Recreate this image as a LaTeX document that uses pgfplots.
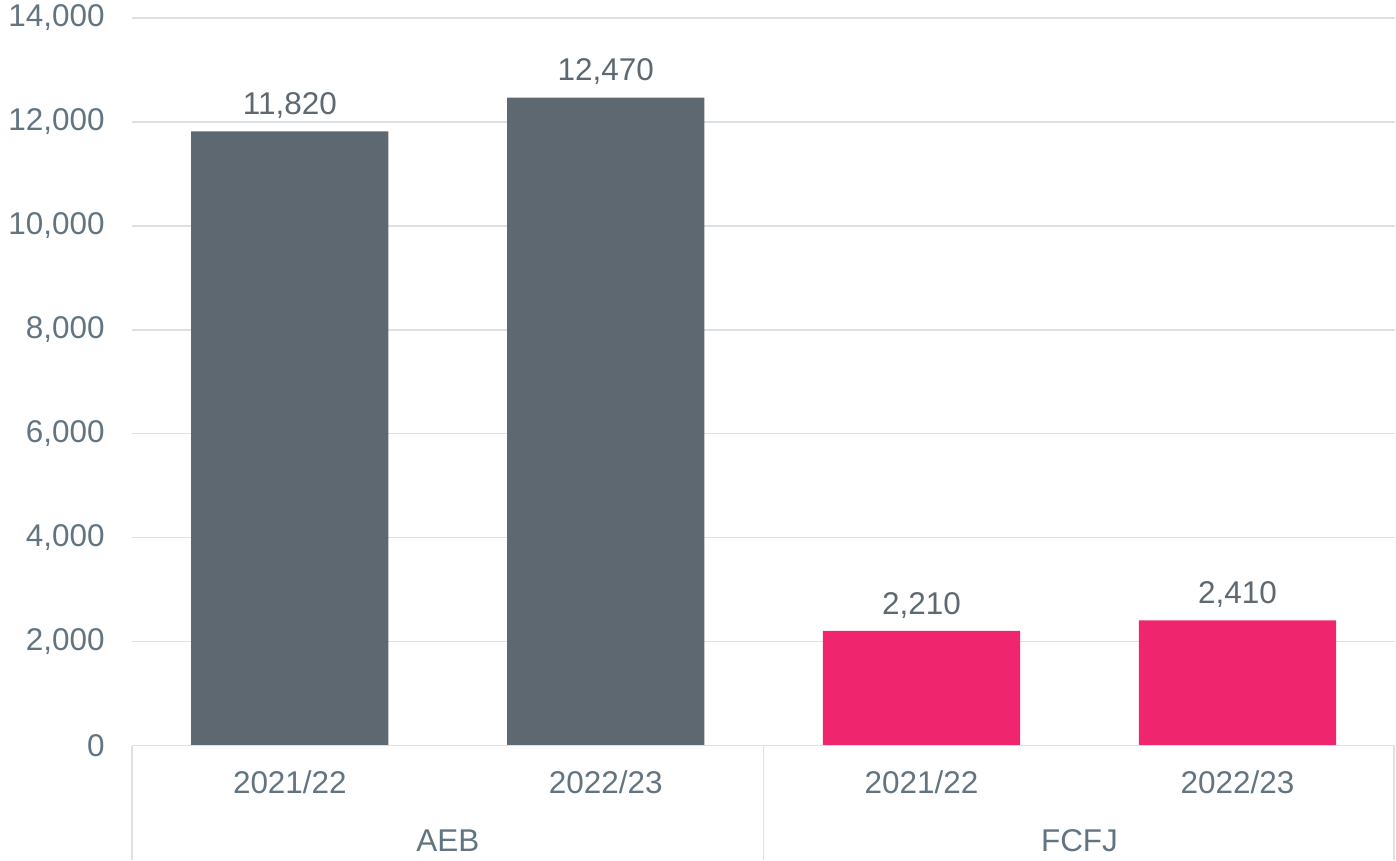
\documentclass[border=0pt]{standalone}
\usepackage{pgfplots}
\pgfplotsset{compat=1.18}
\usepackage{fontspec}
\setmainfont{Liberation Sans}
\definecolor{barGray}{HTML}{5D6870}
\definecolor{barPink}{HTML}{EF266D}
\definecolor{txtGray}{HTML}{627480}
\definecolor{valGray}{HTML}{5D6870}
\definecolor{gridGray}{HTML}{DCE1E5}
\begin{document}
\begin{tikzpicture}
\begin{axis}[
  scale only axis,
  width=948pt, height=546pt,
  xmin=-0.5, xmax=3.5,
  ymin=0, ymax=14000,
  ytick={0,2000,4000,6000,8000,10000,12000,14000},
  scaled y ticks=false,
  xtick={0,1,2,3},
  xticklabels={2021/22,2022/23,2021/22,2022/23},
  ybar, bar width=148pt, bar shift=0pt,
  axis line style={draw=none},
  ymajorgrids, grid style={gridGray, line width=1pt},
  major tick length=0pt,
  tick style={draw=none},
  /pgf/number format/.cd, fixed, 1000 sep={,}, assume math mode=true, /pgfplots/.cd,
  tick label style={font=\fontsize{23.6}{26}\selectfont, text=txtGray},
  yticklabel style={xshift=-17pt},
  xticklabel style={yshift=-15pt},
  nodes near coords,
  every node near coord/.append style={font=\fontsize{23.6}{26}\selectfont, text=valGray, yshift=6pt},
  clip=false,
  enlargelimits=false,
]
\addplot[fill=barGray, draw=none] coordinates {(0,11820) (1,12470)};
\addplot[fill=barPink, draw=none] coordinates {(2,2210) (3,2410)};
\draw[gridGray, line width=1pt] (rel axis cs:0,0) -- (rel axis cs:1,0);
\draw[gridGray, line width=1pt] (rel axis cs:0,0) -- ([yshift=-85.5pt]rel axis cs:0,0);
\draw[gridGray, line width=1pt] (axis cs:1.5,0) -- ([yshift=-85.5pt]axis cs:1.5,0);
\draw[gridGray, line width=1pt] ([xshift=-1pt]rel axis cs:1,0) -- ([xshift=-1pt,yshift=-85.5pt]rel axis cs:1,0);
\node[font=\fontsize{23.6}{26}\selectfont, text=txtGray] at ([yshift=-71.5pt]axis cs:0.5,0) {AEB};
\node[font=\fontsize{23.6}{26}\selectfont, text=txtGray] at ([yshift=-71.5pt]axis cs:2.5,0) {FCFJ};
\end{axis}
\path (current axis.south west) ++(-99pt,-85.5pt) coordinate (bbA);
\path (current axis.north east) ++(0pt,13.5pt) coordinate (bbB);
\path[use as bounding box] (bbA) rectangle (bbB);
\end{tikzpicture}
\end{document}
